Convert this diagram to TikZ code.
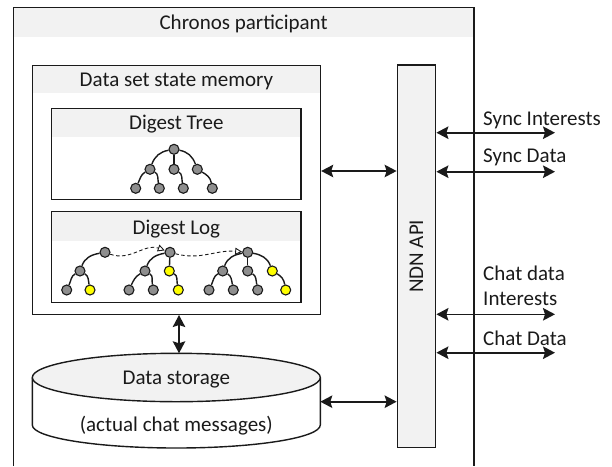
\documentclass[tikz,border=0pt]{standalone}
\usepackage{fontspec}
\setmainfont{Carlito}
\usetikzlibrary{arrows.meta}
\definecolor{hdr}{HTML}{F2F2F2}
\definecolor{ink}{HTML}{1A1A1A}
\definecolor{nodegray}{HTML}{8E8E8E}
\definecolor{leafyellow}{HTML}{FFFF00}
\tikzset{
  lbl/.style={font=\fontsize{21}{25}\selectfont, inner sep=0pt, text=ink},
  frame/.style={draw=ink, line width=1.4pt},
  boxhead/.style={path picture={\fill[hdr] (path picture bounding box.north west) rectangle ([yshift=-#1]path picture bounding box.north east);}},
  biarrow/.style={line width=1.6pt, draw=ink,
    {Stealth[length=12pt,width=12.5pt,inset=2pt]}-{Stealth[length=12pt,width=12.5pt,inset=2pt]}},
  tn/.style={circle, draw=ink, line width=1.1pt, fill=nodegray, minimum size=10pt, inner sep=0pt},
  ty/.style={tn, fill=leafyellow},
  branch/.style={line width=1.4pt, draw=ink},
  lft/.style={out=190, in=70},
  rgt/.style={out=-10, in=110},
  lleaf/.style={out=210, in=65},
  rleaf/.style={out=-30, in=100},
  hop/.style={draw=ink, line width=0.9pt, dash pattern=on 3.5pt off 2.5pt,
    -{Triangle[open, length=7pt, width=7pt]}}
}
\begin{document}
\begin{tikzpicture}[x=1pt,y=-1pt]
\useasboundingbox (0,0) rectangle (612,466);

% participant frame, open at the bottom
\fill[hdr] (13.3,7.3) rectangle (474,36.7);
\draw[frame] (13.3,466) -- (13.3,7.3) -- (474,7.3) -- (474,466);
\node[lbl, anchor=base] (title) at (243.6,29.3) {Chronos participant};

% data set state memory with its two inner boxes
\node[frame, boxhead=28pt, minimum width=288.2pt, minimum height=249pt, inner sep=0pt] (dssm) at (176.4,189.8) {};
\node[lbl, anchor=base] (dssmlabel) at (176.4,86) {Data set state memory};

\node[frame, boxhead=28.6pt, minimum width=249.3pt, minimum height=90.6pt, inner sep=0pt] (dtree) at (176.35,154) {};
\node[lbl, anchor=base] (dtreelabel) at (176.35,129.3) {Digest Tree};

\node[frame, boxhead=29pt, minimum width=249.3pt, minimum height=91pt, inner sep=0pt] (dlog) at (176.35,257.2) {};
\node[lbl, anchor=base] (dloglabel) at (176.35,234.3) {Digest Log};

% digest tree
\node[tn] (a0) at (174,149.3) {};
\node[tn] (a1) at (150,169.3) {};
\node[tn] (a2) at (174,169.3) {};
\node[tn] (a3) at (197.3,169.3) {};
\node[tn] (a4) at (135.7,188.3) {};
\node[tn] (a5) at (159.3,188.3) {};
\node[tn] (a6) at (183.3,188.3) {};
\node[tn] (a7) at (212.3,188.3) {};
\draw[branch] (a0) to[lft] (a1);
\draw[branch] (a0) -- (a2);
\draw[branch] (a0) to[rgt] (a3);
\draw[branch] (a1) to[lleaf] (a4);
\draw[branch] (a1) to[rleaf] (a5);
\draw[branch] (a2) to[rleaf] (a6);
\draw[branch] (a3) to[rleaf] (a7);

% digest log: three successive trees
\node[tn] (b0) at (105,252.3) {};
\node[tn] (b1) at (80,271) {};
\node[tn] (b2) at (66.7,290) {};
\node[ty] (b3) at (90,290) {};
\draw[branch] (b0) to[lft] (b1);
\draw[branch] (b1) to[lleaf] (b2);
\draw[branch] (b1) to[rleaf] (b3);

\node[tn] (c0) at (170,252.3) {};
\node[tn] (c1) at (145,271) {};
\node[ty] (c2) at (169.3,271) {};
\node[tn] (c3) at (129,290) {};
\node[tn] (c4) at (153.3,290) {};
\node[ty] (c5) at (178.3,290) {};
\draw[branch] (c0) to[lft] (c1);
\draw[branch] (c0) -- (c2);
\draw[branch] (c1) to[lleaf] (c3);
\draw[branch] (c1) to[rleaf] (c4);
\draw[branch] (c2) to[rleaf] (c5);

\node[tn] (d0) at (247.7,252.3) {};
\node[tn] (d1) at (222.7,271) {};
\node[tn] (d2) at (247.7,271) {};
\node[ty] (d3) at (272.3,271) {};
\node[tn] (d4) at (209,290) {};
\node[tn] (d5) at (233.3,290) {};
\node[tn] (d6) at (257.7,290) {};
\node[ty] (d7) at (285.7,290) {};
\draw[branch] (d0) to[lft] (d1);
\draw[branch] (d0) -- (d2);
\draw[branch] (d0) to[rgt] (d3);
\draw[branch] (d1) to[lleaf] (d4);
\draw[branch] (d1) to[rleaf] (d5);
\draw[branch] (d2) to[rleaf] (d6);
\draw[branch] (d3) to[rleaf] (d7);

\draw[hop] (b0) to[out=-20, in=160] (c0);
\draw[hop] (c0) to[out=-15, in=175] (d0);

% data storage cylinder
\draw[frame, fill=white] (32.3,377.5) -- (32.3,425)
  arc[start angle=180, end angle=360, x radius=144pt, y radius=23pt] -- (320.3,377.5);
\draw[frame, fill=hdr] (176.3,377.5) ellipse [x radius=144pt, y radius=24.2pt];
\node[lbl, anchor=base] (storelabel) at (176.3,384) {Data storage};
\node[lbl, anchor=base] (storenote) at (176.3,431.7) {(actual chat messages)};
\coordinate (cyltop) at (179,353.3);
\coordinate (cylright) at (320.3,401.7);

% NDN API column
\node[frame, fill=hdr, minimum width=38.4pt, minimum height=382.7pt, inner sep=0pt] (ndn) at (416.5,256.35) {};
\node[lbl, rotate=90] (ndnlabel) at (ndn.center) {NDN API};

% internal connectors
\coordinate (row) at (0,171);
\draw[biarrow] (dssm.east |- row) -- (ndn.west |- row);
\draw[biarrow] (dssm.south -| cyltop) -- (cyltop);
\draw[biarrow] (cylright) -- (ndn.west |- cylright);

% network side
\coordinate (o1) at (555,132.7);
\coordinate (o2) at (555,171.7);
\coordinate (o3) at (555,314.3);
\coordinate (o4) at (555,352.7);
\draw[biarrow] (ndn.east |- o1) -- (o1);
\draw[biarrow] (ndn.east |- o2) -- (o2);
\draw[biarrow] (ndn.east |- o3) -- (o3);
\draw[biarrow] (ndn.east |- o4) -- (o4);
\node[lbl, anchor=base west] (lsi) at (483,125) {Sync Interests};
\node[lbl, anchor=base west] (lsd) at (483,162.7) {Sync Data};
\node[lbl, anchor=base west] (lci1) at (483,280) {Chat data};
\node[lbl, anchor=base west] (lci2) at (483,305) {Interests};
\node[lbl, anchor=base west] (lcd) at (483,345) {Chat Data};
\end{tikzpicture}
\end{document}
